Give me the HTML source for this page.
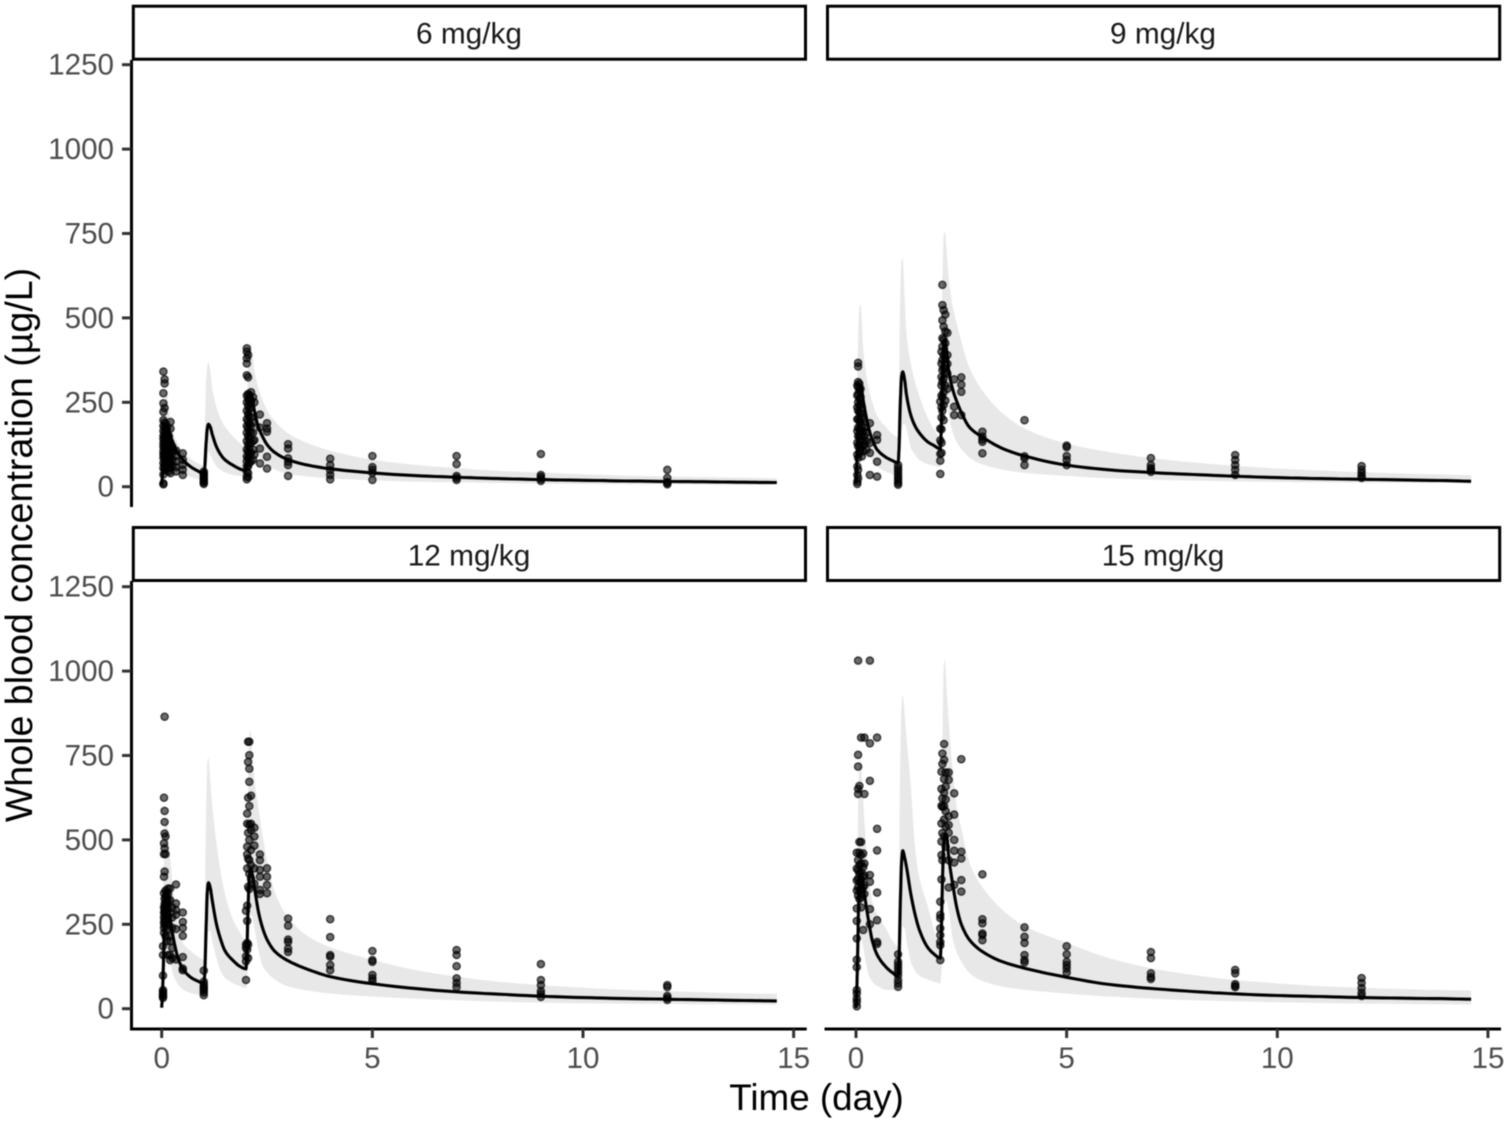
<!DOCTYPE html>
<html lang="en">
<head>
<meta charset="utf-8">
<title>Whole blood concentration by dose</title>
<style>
html,body{margin:0;padding:0;background:#fff;}
svg{display:block;font-family:"Liberation Sans",Arial,sans-serif;filter:blur(0.45px);}
</style>
</head>
<body>
<svg id="chart" xmlns="http://www.w3.org/2000/svg" width="1508" height="1122" viewBox="0 0 1508 1122">
  <rect x="0" y="0" width="1508" height="1122" fill="#ffffff"/>
  <g id="panels"></g>
  <g>
    <rect x="133.3" y="6.2" width="672.2" height="53" fill="#fff" stroke="#000" stroke-width="3"/>
    <text x="469" y="43.5" font-size="29.8" text-anchor="middle" fill="#1a1a1a">6 mg/kg</text>
    <rect x="827.5" y="6.2" width="672.2" height="53" fill="#fff" stroke="#000" stroke-width="3"/>
    <text x="1163" y="43.5" font-size="29.8" text-anchor="middle" fill="#1a1a1a">9 mg/kg</text>
    <rect x="133.3" y="527.5" width="672.2" height="53" fill="#fff" stroke="#000" stroke-width="3"/>
    <text x="469" y="565.5" font-size="29.8" text-anchor="middle" fill="#1a1a1a">12 mg/kg</text>
    <rect x="827.5" y="527.5" width="672.2" height="53" fill="#fff" stroke="#000" stroke-width="3"/>
    <text x="1163" y="565.5" font-size="29.8" text-anchor="middle" fill="#1a1a1a">15 mg/kg</text>
  </g>
  <text x="816.5" y="1110" font-size="36.8" text-anchor="middle" fill="#000">Time (day)</text>
  <text transform="translate(32 545) rotate(-90)" font-size="37.6" text-anchor="middle" fill="#000">Whole blood concentration (µg/L)</text>
</svg>
<script>
const yTicks = [0, 250, 500, 750, 1000, 1250];
const yTickLabels = ['0', '250', '500', '750', '1000', '1250'];
const xTicks = [0, 5, 10, 15];
const xTickLabels = ['0', '5', '10', '15'];

const curveTimes = [0,0.02,0.04,0.06,0.09,0.12,0.16,0.2,0.3,0.4,0.5,0.7,0.85,1.0,
  1.02,1.05,1.08,1.11,1.15,1.2,1.3,1.4,1.5,1.7,1.85,2.0,
  2.02,2.05,2.08,2.11,2.15,2.2,2.3,2.4,2.5,2.7,3,
  3.5,4,5,6,7,8,9,10,11,12,13,14,14.6];

const median6 = [5,40,90,140,180,185,172,155,120,97,80,58,47,38,
  55,120,170,185,178,155,118,95,80,63,53,47,
  75,170,250,278,262,225,175,147,125,100,80,
  63,53,41,33,28,24,21,19,17,15.5,14.5,13,12.5];
const upper6 = [10,60,140,220,280,285,235,200,150,125,105,82,70,62,
  150,300,355,370,345,290,235,200,178,148,130,118,
  200,350,415,425,400,345,290,255,227,192,158,
  127,107,80,65,55,47,42,37,33,30,28,26,25];
const lower6 = [3,20,40,60,85,100,88,75,55,45,38,28,23,20,
  22,40,75,105,95,82,60,50,42,35,32,29,
  32,60,110,150,145,125,92,75,64,50,38,
  30,25,19,15,13,11,9,8,7.5,7,6,5.5,5];

const median9 = [10,70,160,240,295,300,265,235,175,135,110,88,78,71,
  110,240,325,340,320,270,212,180,160,133,122,112,
  160,310,410,435,405,345,286,250,220,175,147,
  112,91,64,50,42,36,31,27,24,22,20,18,16];
const upper9 = [15,150,380,480,540,530,430,370,295,245,210,178,158,147,
  300,560,670,675,570,450,365,310,270,205,170,148,
  300,600,745,755,700,620,530,480,430,350,285,
  215,172,128,103,85,72,62,54,48,43,39,36,34];
const lower9 = [5,25,60,100,150,165,150,135,95,75,60,45,38,32,
  45,90,150,185,185,170,115,95,80,67,62,59,
  75,140,220,270,255,210,160,130,112,86,66,
  50,41,32,25,21,18,16,14,13,12,11.5,11,10.5];

const median12 = [3,50,130,240,330,350,320,270,195,145,118,92,82,75,
  100,220,340,373,360,320,250,205,172,142,126,118,
  160,300,390,415,400,360,285,237,205,168,142,
  115,95,74,60,50,43,37,33,30,28,26,24,23];
const upper12 = [5,130,350,500,560,550,500,450,320,240,195,170,155,145,
  280,560,720,745,680,600,490,405,340,262,228,203,
  320,640,810,825,760,680,590,510,440,340,270,
  212,182,145,115,95,80,70,62,56,52,48,45,44];
const lower12 = [2,15,40,80,130,160,150,135,92,70,57,46,42,40,
  50,95,170,230,230,200,150,110,92,75,67,61,
  75,130,210,280,270,240,170,125,108,85,66,
  53,45,36,30,25,21,18,16,15,14,13,12.5,12];

const median15 = [2,60,170,300,385,400,375,340,260,195,160,125,108,97,
  140,300,430,468,450,418,340,280,235,182,162,150,
  200,370,480,515,515,450,365,295,250,203,169,
  138,120,93,72,60,51,44,39,36,33,31,29.5,28];
const upper15 = [5,160,480,670,735,730,640,555,400,310,280,240,205,184,
  380,730,900,930,880,800,660,480,390,305,235,180,
  400,790,1010,1035,950,850,700,590,535,430,360,
  290,245,195,150,120,100,85,75,67,62,58,55,54];
const lower15 = [2,12,40,100,170,210,190,160,100,78,68,56,55,55,
  65,110,190,245,240,200,140,112,98,86,80,75,
  95,160,260,320,320,290,203,165,140,105,82,
  65,56,45,36,30,25,22,19,17,15,14,13,12];

const obsTimes6 = [0.04,0.07,0.1,0.125,0.17,0.21,0.25,0.34,0.5,1.0,2.02,2.05,2.08,2.12,2.17,2.2,2.33,2.5,3,4,5,7,9,12];
const obsConc6 = [
  [341,277,247,222,197,180,165,150,140,128,118,105,95,85,70,55,36,7,10],
  [318,306,233,190,175,160,150,135,125,115,100,90,80,65,50],
  [185,170,155,145,135,122,110,100,88,75,60,48],
  [175,160,148,132,118,105,92,80,68,55],
  [150,135,120,110,95,85,70,58,45],
  [192,172,130,105,85,70,55,40],
  [120,100,80,62],
  [107,92,75,58,45],
  [99,80,65,50,35],
  [45,40,35,30,25,20,16,12,8],
  [410,400,380,365,330,270,250,225,200,180,160,135,110,90,75,60,45,30,22],
  [390,324,275,260,240,215,195,175,150,125,105,85,60,40,28],
  [270,250,230,210,185,165,140,115,95,70],
  [280,255,235,205,180,160,130,100,75],
  [265,190,160,135,110,80],
  [250,138,95],
  [214,175,113,69],
  [188,172,163,89,54],
  [126,113,84,74,64,32],
  [83,64,49,35,22],
  [91,58,50,41,20],
  [91,67,32,26,20],
  [97,35,29,23,17],
  [50,26,14,11,7]
];

const obsTimes9 = [0.03,0.05,0.08,0.11,0.14,0.17,0.2,0.25,0.33,0.5,1.0,2.0,2.03,2.05,2.08,2.12,2.17,2.33,2.5,3,4,5,7,9,12];
const obsConc9 = [
  [300,270,235,200,165,130,95,60,35,15,8],
  [367,356,310,295,275,250,225,200,175,150,120,85,50,25],
  [305,285,260,240,220,195,170,150,125,100],
  [290,265,245,215,190,165,140,112],
  [235,205,180,150,120,90],
  [200,165,135,105],
  [175,150,125],
  [160,135,110],
  [188,130,100,35],
  [153,139,74,30],
  [64,55,48,40,32,25,18,11,6],
  [252,172,137,97,77,38],
  [400,365,325,300,270,235,205,170,130,100],
  [598,538,493,440,415,375,345,310,265,225],
  [523,474,436,390,352,320,280,242,197],
  [510,460,425,380,340,300,255],
  [456,390,364,335,290],
  [318,237,212],
  [324,302,281,212],
  [163,148,140,133,99],
  [197,90,84,64],
  [122,117,91,79,64],
  [85,64,55,50,44],
  [94,79,64,50,35],
  [61,50,41,32,26]
];

const obsTimes12 = [0.03,0.055,0.07,0.09,0.12,0.15,0.2,0.25,0.34,0.5,1.0,2.0,2.03,2.05,2.08,2.12,2.2,2.33,2.5,3,4,5,7,9,12];
const obsConc12 = [
  [185,159,98,55,50,45,40,36,32],
  [625,490,458,391,342,300,285,270,255,240,225],
  [865,586,553,519,475,406,325,310,295,280,262,248],
  [510,458,350,332,316,302,288,274,258,215],
  [345,330,312,296,282,268,250,235,200],
  [356,340,322,305,290,275,260,159],
  [356,322,215,200,159,144],
  [300,270,240,180,150],
  [368,312,292,278,236,146],
  [285,257,239,216,153,119,114],
  [113,80,72,65,60,55,48,40],
  [290,190,180,155,140,85],
  [578,548,480,457,416,305,260,195,175],
  [791,731,625,521,445,361,190,150],
  [791,751,711,672,600,546,500,440,400,355],
  [631,548,530,470,425,385],
  [536,510,483,416,370],
  [457,440,411,391,352,340],
  [416,391,366,342],
  [267,246,205,198,178,168],
  [265,212,159,154,129,114],
  [171,144,139,100,90,82],
  [174,159,126,90,76,64],
  [132,85,70,52,44,35],
  [70,64,38,32,26]
];

const obsTimes15 = [0.02,0.05,0.08,0.12,0.17,0.2,0.33,0.5,1.0,2.0,2.03,2.05,2.09,2.13,2.2,2.33,2.5,3,4,5,7,9,12];
const obsConc15 = [
  [462,415,380,350,297,260,208,145,123,55,45,30,20,7],
  [1031,752,717,651,636,440,410,385,360,335],
  [660,494,462,425,400,375,350,325],
  [803,494,455,430,405,380,355,330,300],
  [460,420,390,360,233],
  [803,636,430,395,365,340],
  [1031,786,675,396,376,295,250],
  [803,533,469,344,262,198,192],
  [161,139,129,119,109,99,85,75,65],
  [317,278,268,238,218,198,188,144],
  [702,651,601,549,495,455,383],
  [756,725,623,598,520,440],
  [784,737,680,640,600,560,510],
  [700,658,620,585,540,480],
  [700,678,570,544,521,440,359],
  [638,575,500,468,433,367],
  [739,465,445,381,347],
  [398,265,253,223,218,203],
  [241,213,195,159,144,137],
  [185,161,139,129,119,107],
  [168,150,105,94,88],
  [115,105,73,67,64],
  [91,76,61,47,38]
];

const panels = [
  {key:'6-mg-kg',  median:median6,  upper:upper6,  lower:lower6,  obsTimes:obsTimes6,  obsConc:obsConc6,  x0:161.7, y0:486.7, axisLeft:true,  axisBottom:false, top:60,  bottom:507},
  {key:'9-mg-kg',  median:median9,  upper:upper9,  lower:lower9,  obsTimes:obsTimes9,  obsConc:obsConc9,  x0:856,   y0:486.7, axisLeft:false, axisBottom:false, top:60,  bottom:507},
  {key:'12-mg-kg', median:median12, upper:upper12, lower:lower12, obsTimes:obsTimes12, obsConc:obsConc12, x0:161.7, y0:1008.7, axisLeft:true,  axisBottom:true, top:581, bottom:1029},
  {key:'15-mg-kg', median:median15, upper:upper15, lower:lower15, obsTimes:obsTimes15, obsConc:obsConc15, x0:856,   y0:1008.7, axisLeft:false, axisBottom:true, top:581, bottom:1029}
];

const PX_PER_DAY = 42.13;
const PX_PER_UNIT = 0.3376;
const NS = 'http://www.w3.org/2000/svg';
const root = document.getElementById('panels');

function make(tag, attrs, parent) {
  const el = document.createElementNS(NS, tag);
  for (const k in attrs) el.setAttribute(k, attrs[k]);
  parent.appendChild(el);
  return el;
}

/* Monotone cubic smoothing between the read-off curve samples. */
function smoothSamples(ts, vs) {
  const n = ts.length;
  const d = [];
  for (let i = 0; i < n - 1; i++) d.push((vs[i + 1] - vs[i]) / (ts[i + 1] - ts[i]));
  const m = [d[0]];
  for (let i = 1; i < n - 1; i++) {
    if (d[i - 1] * d[i] <= 0) { m.push(0); continue; }
    const h0 = ts[i] - ts[i - 1], h1 = ts[i + 1] - ts[i];
    const w0 = 2 * h1 + h0, w1 = h1 + 2 * h0;
    m.push((w0 + w1) / (w0 / d[i - 1] + w1 / d[i]));
  }
  m.push(d[n - 2]);
  const out = [];
  for (let i = 0; i < n - 1; i++) {
    const h = ts[i + 1] - ts[i];
    for (let s = 0; s < 6; s++) {
      const u = s / 6, u2 = u * u, u3 = u2 * u;
      out.push([
        ts[i] + u * h,
        (2 * u3 - 3 * u2 + 1) * vs[i] + (u3 - 2 * u2 + u) * h * m[i] + (-2 * u3 + 3 * u2) * vs[i + 1] + (u3 - u2) * h * m[i + 1]
      ]);
    }
  }
  out.push([ts[n - 1], vs[n - 1]]);
  return out;
}

panels.forEach(function (p) {
  const xScale = function (t) { return p.x0 + t * PX_PER_DAY; };
  const yScale = function (v) { return p.y0 - v * PX_PER_UNIT; };
  const toPoint = function (s) { return xScale(s[0]).toFixed(1) + ',' + yScale(s[1]).toFixed(1); };

  const g = make('g', {}, root);
  
  

  const upperPts = smoothSamples(curveTimes, p.upper).map(toPoint);
  const lowerPts = smoothSamples(curveTimes, p.lower).map(toPoint).reverse();
  const ribbon = make('polygon', {points: upperPts.concat(lowerPts).join(' '), fill: '#e8e8e8'}, g);
  
  

  p.obsTimes.forEach(function (t, c) {
    p.obsConc[c].forEach(function (v) {
      const dot = make('circle', {cx: xScale(t).toFixed(1), cy: yScale(v).toFixed(1), r: 3.6, fill: '#000', 'fill-opacity': 0.58, stroke: '#000', 'stroke-opacity': 0.68, 'stroke-width': 1.4}, g);
      
      
    });
  });

  const linePts = smoothSamples(curveTimes, p.median).map(toPoint);
  const line = make('polyline', {points: linePts.join(' '), fill: 'none', stroke: '#000', 'stroke-width': 3.1, 'stroke-linejoin': 'round'}, g);
  
  

  if (p.axisLeft) {
    const yAxis = make('line', {x1: 131.5, x2: 131.5, y1: p.top, y2: p.bottom + (p.axisBottom ? 1.5 : 0), stroke: '#000', 'stroke-width': 3}, g);
    
    
    yTicks.forEach(function (v, i) {
      const y = yScale(v);
      const tick = make('line', {x1: 122, x2: 131, y1: y, y2: y, stroke: '#333', 'stroke-width': 3}, g);
      
      
      const label = make('text', {x: 114, y: y + 10, 'font-size': 29.6, 'text-anchor': 'end', fill: '#4d4d4d'}, g);
      
      
      label.textContent = yTickLabels[i];
    });
  }
  if (p.axisBottom) {
    const xAxis = make('line', {x1: p.x0 - 31.5, x2: p.x0 + 645, y1: p.bottom, y2: p.bottom, stroke: '#000', 'stroke-width': 3}, g);
    
    
    xTicks.forEach(function (t, i) {
      const x = xScale(t);
      const tick = make('line', {x1: x, x2: x, y1: p.bottom, y2: p.bottom + 9, stroke: '#333', 'stroke-width': 3}, g);
      
      
      const label = make('text', {x: x, y: 1068, 'font-size': 29.6, 'text-anchor': 'middle', fill: '#4d4d4d'}, g);
      
      
      label.textContent = xTickLabels[i];
    });
  }
});
</script>
</body>
</html>
